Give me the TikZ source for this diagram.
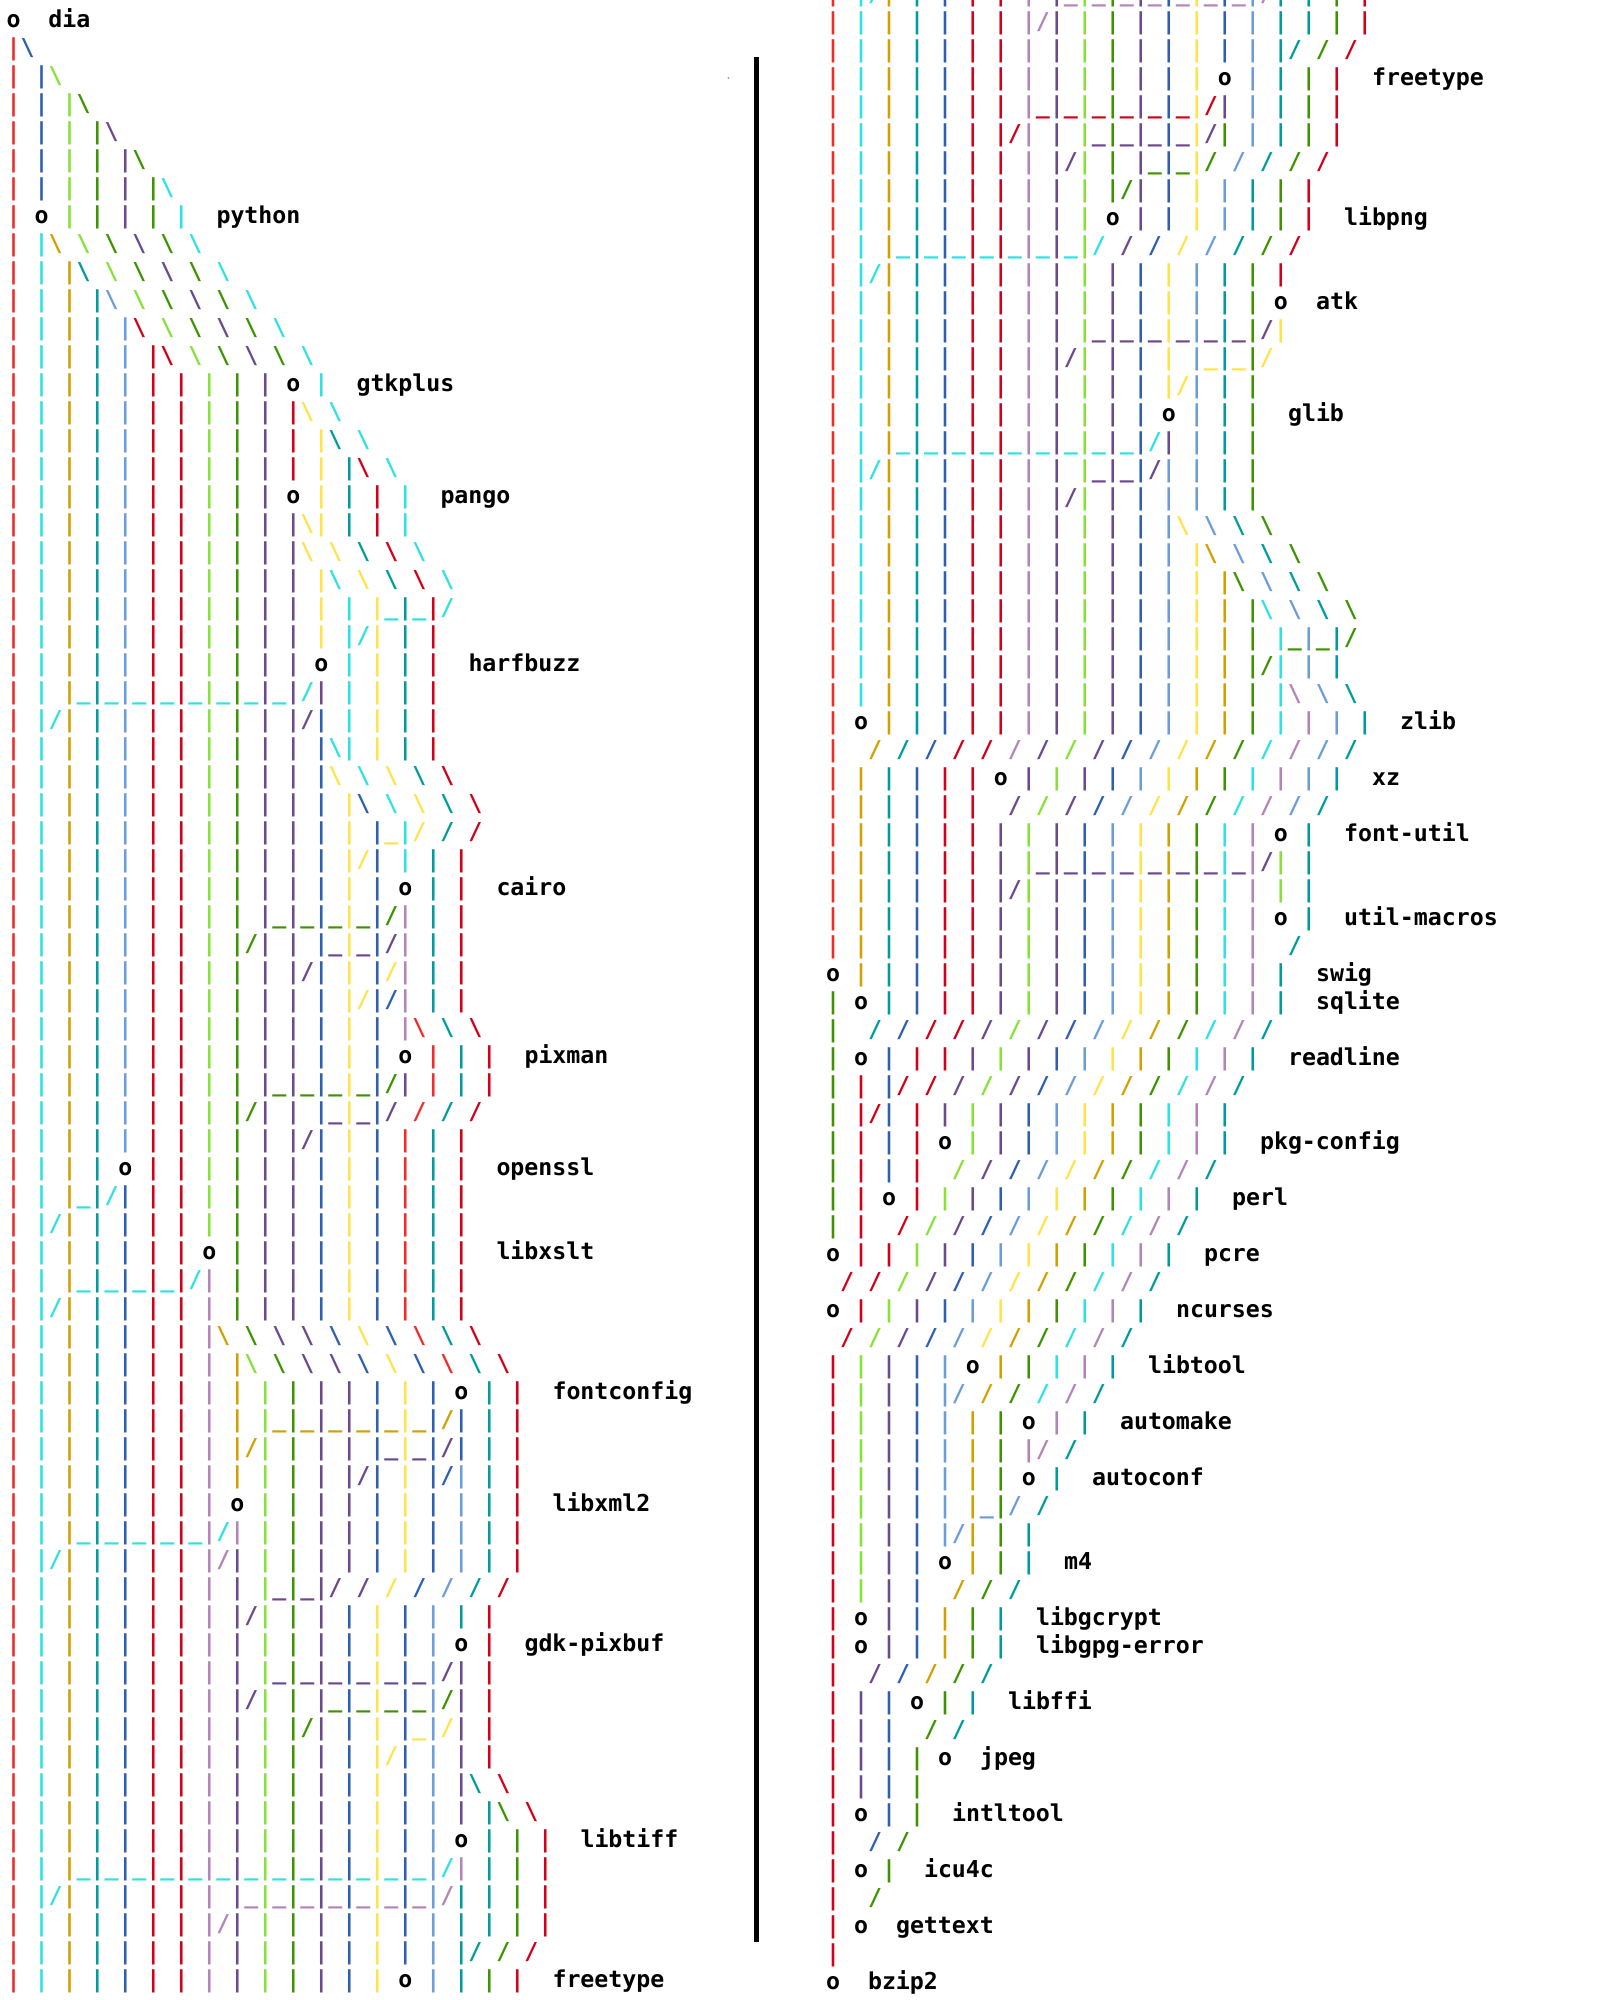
\documentclass[tikz,border=0pt]{standalone}
\usepackage{fontspec}
\newfontfamily\gmono{DejaVu Sans Mono}
\usepackage{xcolor}
\definecolor{cR}{HTML}{F22A2A}
\definecolor{cr}{HTML}{D20018}
\definecolor{cC}{HTML}{2EE2E2}
\definecolor{cT}{HTML}{009C9C}
\definecolor{cG}{HTML}{D2A000}
\definecolor{cY}{HTML}{FFE34A}
\definecolor{cL}{HTML}{86E236}
\definecolor{cg}{HTML}{3E9400}
\definecolor{cP}{HTML}{6B4A8C}
\definecolor{cp}{HTML}{B384B8}
\definecolor{cB}{HTML}{2E5FB2}
\definecolor{cb}{HTML}{6A9DDA}
\definecolor{ck}{HTML}{000000}
\newlength\cw \setlength\cw{1.4mm}
\def\glI{|}\def\glS{/}\def\glK{\textbackslash}\def\glU{\textunderscore}\def\glO{o}
\def\rpend{RPEND}
\def\rowp#1#2{\ifx#1\rpend\else\rpcell#1#2\expandafter\rowp\fi}
\def\rpcell#1#2{\makebox[\cw][c]{\if#1.\else\textcolor{c#1}{\csname gl#2\endcsname}\fi}}
\newcommand\Lrow[2]{\edef\tmprow{#2}\node[rowtxt] (L#1) at (6.5,{27+28*#1}) {\expandafter\rowp\tmprow\rpend\rpend};}
\newcommand\Rrow[2]{\edef\tmprow{#2}\node[rowtxt] (R#1) at (826,{29+28*#1}) {\expandafter\rowp\tmprow\rpend\rpend};}
\newcommand\Llab[4]{\node[labtxt] (#1) at ({6.5+14*#3},{27+28*#2}) {#4};}
\newcommand\Rlab[4]{\node[labtxt] (#1) at ({826+14*#3},{29+28*#2}) {#4};}
% lane prefixes
\def\PA{RI .. CI .. GI .. TI .. bI .. rI .. rI .. LI .. gI .. PI}
\def\PB{\PA .. PI .. BI}
\def\PC{RI .. CI .. GI .. TI .. bI .. rI .. rI .. LI .. gI}
\def\QA{RI .. CI .. GI .. TI .. BI .. rI .. rI .. pI}
\def\QB{\QA .. PI}
\def\QC{\QB .. LI .. gI .. PI .. BI}
\def\QD{\QC .. YI .. BI .. bI}
\def\XA{RI .. CI .. GI .. TI .. BI .. rI .. rI .. pI .. PI .. LI}
\def\XB{\XA .. PI .. BI}
\def\YA{RI .. GI .. TI .. BI .. rI .. rI .. PI .. LI .. PI .. BI .. bI .. YI .. GI .. gI .. CI .. pI}
\def\RowA{RI .. CI CS GI .. TI .. BI .. rI .. rI .. pI .. PI pU LI pU gI pU PI pU BI pU YI pU BI pU bI pS TI .. TI .. gI .. rI}
\def\RowB{RI .. CI .. GI .. TI .. BI .. rI .. rI .. pI pS PI .. LI .. gI .. PI .. BI .. YI .. BI .. bI .. TI .. TI .. gI .. rI}
\def\RowC{\QD .. TI TS .. gS .. rS}
\def\RowD{\QC .. YI .. kO .. bI .. TI .. gI .. rI}
\tikzset{
  rowtxt/.style={anchor=base west, inner sep=0pt, outer sep=0pt,
    font=\gmono\bfseries\fontsize{6.616pt}{8pt}\selectfont},
  labtxt/.style={rowtxt, text=black},
  divider/.style={line width=0.55mm, black}
}
\begin{document}
\begin{tikzpicture}[x=0.1mm,y=-0.1mm]
\fill[white] (0,0) rectangle (1600,2000);
\useasboundingbox (0,0) rectangle (1600,2000);
% ---------------- left panel ----------------
\Lrow{0}{kO}
\Lrow{1}{RI BK}
\Lrow{2}{RI .. BI LK}
\Lrow{3}{RI .. BI .. LI gK}
\Lrow{4}{RI .. BI .. LI .. gI PK}
\Lrow{5}{RI .. BI .. LI .. gI .. PI gK}
\Lrow{6}{RI .. BI .. LI .. gI .. PI .. gI CK}
\Lrow{7}{RI .. kO .. LI .. gI .. PI .. gI .. CI}
\Lrow{8}{RI .. CI GK .. LK .. gK .. PK .. gK .. CK}
\Lrow{9}{RI .. CI .. GI TK .. LK .. gK .. PK .. gK .. CK}
\Lrow{10}{RI .. CI .. GI .. TI bK .. LK .. gK .. PK .. gK .. CK}
\Lrow{11}{RI .. CI .. GI .. TI .. bI rK .. LK .. gK .. PK .. gK .. CK}
\Lrow{12}{RI .. CI .. GI .. TI .. bI .. rI rK .. LK .. gK .. PK .. gK .. CK}
\Lrow{13}{\PA .. kO .. CI}
\Lrow{14}{\PA .. rI YK .. CK}
\Lrow{15}{\PA .. rI .. YI TK .. CK}
\Lrow{16}{\PA .. rI .. YI .. TI rK .. CK}
\Lrow{17}{\PA .. kO .. YI .. TI .. rI .. CI}
\Lrow{18}{\PA .. PI YK YI .. TI .. rI .. CI}
\Lrow{19}{\PA .. PI YK .. YK .. TK .. rK .. CK}
\Lrow{20}{\PA .. PI .. YI CK .. YK .. TK .. rK .. CK}
\Lrow{21}{\PA .. PI .. YI .. CI .. YI CU TI CU rI CS}
\Lrow{22}{\PA .. PI .. YI .. CI CS YI .. TI .. rI}
\Lrow{23}{\PA .. PI .. kO .. CI .. YI .. TI .. rI}
\Lrow{24}{RI .. CI .. GI CU TI CU bI CU rI CU rI CU LI CU gI CU PI CU PI CS PI .. CI .. YI .. TI .. rI}
\Lrow{25}{RI .. CI CS GI .. TI .. bI .. rI .. rI .. LI .. gI .. PI .. PI PS BI .. CI .. YI .. TI .. rI}
\Lrow{26}{\PB CK CI .. YI .. TI .. rI}
\Lrow{27}{\PB YK .. CK .. YK .. TK .. rK}
\Lrow{28}{\PB .. YI BK .. CK .. YK .. TK .. rK}
\Lrow{29}{\PB .. YI .. BI YU CI YS .. TS .. rS}
\Lrow{30}{\PB .. YI YS BI .. CI .. TI .. rI}
\Lrow{31}{\PB .. YI .. BI .. kO .. TI .. rI}
\Lrow{32}{\PC .. PI gU PI gU BI gU YI gU BI gS pI .. TI .. rI}
\Lrow{33}{\PC gS PI .. PI .. BI PU YI PU BI PS pI .. TI .. rI}
\Lrow{34}{\PA .. PI PS BI .. YI .. BI YS pI .. TI .. rI}
\Lrow{35}{\PB .. YI YS BI BS pI .. TI .. rI}
\Lrow{36}{\PB .. YI .. BI .. pI RK .. TK .. rK}
\Lrow{37}{\PB .. YI .. BI .. kO .. RI .. TI .. rI}
\Lrow{38}{\PC .. PI gU PI gU BI gU YI gU BI gS PI .. RI .. TI .. rI}
\Lrow{39}{\PC gS PI .. PI .. BI PU YI PU BI PS .. RS .. TS .. rS}
\Lrow{40}{\PA .. PI PS BI .. YI .. BI .. RI .. TI .. rI}
\Lrow{41}{RI .. CI .. GI .. TI .. kO .. rI .. rI .. LI .. gI .. PI .. PI .. BI .. YI .. BI .. RI .. TI .. rI}
\Lrow{42}{RI .. CI .. GI CU TI CS BI .. rI .. rI .. LI .. gI .. PI .. PI .. BI .. YI .. BI .. RI .. TI .. rI}
\Lrow{43}{RI .. CI CS GI .. TI .. BI .. rI .. rI .. LI .. gI .. PI .. PI .. BI .. YI .. BI .. RI .. TI .. rI}
\Lrow{44}{RI .. CI .. GI .. TI .. BI .. rI .. rI .. kO .. gI .. PI .. PI .. BI .. YI .. BI .. RI .. TI .. rI}
\Lrow{45}{RI .. CI .. GI CU TI CU BI CU rI CU rI CS pI .. gI .. PI .. PI .. BI .. YI .. BI .. RI .. TI .. rI}
\Lrow{46}{RI .. CI CS GI .. TI .. BI .. rI .. rI .. pI .. gI .. PI .. PI .. BI .. YI .. BI .. RI .. TI .. rI}
\Lrow{47}{\QA GK .. gK .. PK .. PK .. BK .. YK .. BK .. RK .. TK .. rK}
\Lrow{48}{\QA .. GI LK .. gK .. PK .. PK .. BK .. YK .. BK .. RK .. TK .. rK}
\Lrow{49}{\QA .. GI .. LI .. gI .. PI .. PI .. BI .. YI .. BI .. kO .. TI .. rI}
\Lrow{50}{\QA .. GI .. LI GU gI GU PI GU PI GU BI GU YI GU BI GS BI .. TI .. rI}
\Lrow{51}{\QA .. GI GS LI .. gI .. PI .. PI .. BI PU YI PU BI PS BI .. TI .. rI}
\Lrow{52}{\QA .. GI .. LI .. gI .. PI .. PI PS BI .. YI .. BI BS bI .. TI .. rI}
\Lrow{53}{\QA .. kO .. LI .. gI .. PI .. PI .. BI .. YI .. BI .. bI .. TI .. rI}
\Lrow{54}{RI .. CI .. GI CU TI CU BI CU rI CU rI CU pI CS pI .. LI .. gI .. PI .. PI .. BI .. YI .. BI .. bI .. TI .. rI}
\Lrow{55}{RI .. CI CS GI .. TI .. BI .. rI .. rI .. pI pS PI .. LI .. gI .. PI .. PI .. BI .. YI .. BI .. bI .. TI .. rI}
\Lrow{56}{\QB .. LI PU gI PU PI PS .. PS .. YS .. BS .. bS .. TS .. rS}
\Lrow{57}{\QA .. PI PS LI .. gI .. PI .. BI .. YI .. BI .. bI .. TI .. rI}
\Lrow{58}{\QB .. LI .. gI .. PI .. BI .. YI .. BI .. bI .. kO .. rI}
\Lrow{59}{\QB .. LI PU gI PU PI PU BI PU YI PU BI PU bI PS PI .. rI}
\Lrow{60}{\QB PS LI .. gI .. PI gU BI gU YI gU BI gU bI gS PI .. rI}
\Lrow{61}{\QB .. LI .. gI gS PI .. BI .. YI .. BI YU bI YS PI .. rI}
\Lrow{62}{\QC .. YI YS BI .. bI .. PI .. rI}
\Lrow{63}{\QD .. PI TK .. rK}
\Lrow{64}{\QD .. PI .. TI gK .. rK}
\Lrow{65}{\QD .. kO .. TI .. gI .. rI}
\Lrow{66}{RI .. CI .. GI CU TI CU BI CU rI CU rI CU pI CU PI CU LI CU gI CU PI CU BI CU YI CU BI CU bI CS pI .. TI .. gI .. rI}
\Lrow{67}{\RowA}
\Lrow{68}{\RowB}
\Lrow{69}{\RowC}
\Lrow{70}{\RowD}
\Llab{dia}{0}{3}{dia}
\Llab{python}{7}{15}{python}
\Llab{gtkplus}{13}{25}{gtkplus}
\Llab{pango}{17}{31}{pango}
\Llab{harfbuzz}{23}{33}{harfbuzz}
\Llab{cairo}{31}{35}{cairo}
\Llab{pixman}{37}{37}{pixman}
\Llab{openssl}{41}{35}{openssl}
\Llab{libxslt}{44}{35}{libxslt}
\Llab{fontconfig}{49}{39}{fontconfig}
\Llab{libxml2}{53}{39}{libxml2}
\Llab{gdkpixbuf}{58}{37}{gdk-pixbuf}
\Llab{libtiff}{65}{41}{libtiff}
\Llab{freetypeL}{70}{39}{freetype}
% ---------------- divider ----------------
\coordinate (divtop) at (756.6,57);
\coordinate (divbot) at (756.6,1942);
\draw[divider] (divtop) -- (divbot);
\coordinate (speck) at (728.5,78);
\fill[gray!70] (speck) circle[radius=0.12mm];
% ---------------- right panel ----------------
\edef\tmprow{\RowA}\node[rowtxt] (Rtop) at (826,1) {\expandafter\rowp\tmprow\rpend\rpend};
\Rrow{0}{\RowB}
\Rrow{1}{\RowC}
\Rrow{2}{\RowD}
\Rrow{3}{RI .. CI .. GI .. TI .. BI .. rI .. rI .. pI rU PI rU LI rU gI rU PI rU BI rU YI rS PI .. bI .. TI .. gI .. rI}
\Rrow{4}{RI .. CI .. GI .. TI .. BI .. rI .. rI rS pI .. PI .. LI PU gI PU PI PU BI PU YI PS gI .. bI .. TI .. gI .. rI}
\Rrow{5}{RI .. CI .. GI .. TI .. BI .. rI .. rI .. pI .. PI PS LI .. gI .. PI gU BI gU YI gS .. bS .. TS .. gS .. rS}
\Rrow{6}{\XA .. gI gS PI .. BI .. YI .. bI .. TI .. gI .. rI}
\Rrow{7}{\XA .. kO .. PI .. BI .. YI .. bI .. TI .. gI .. rI}
\Rrow{8}{RI .. CI .. GI CU TI CU BI CU rI CU rI CU pI CU PI CU LI CS .. PS .. BS .. YS .. bS .. TS .. gS .. rS}
\Rrow{9}{RI .. CI CS GI .. TI .. BI .. rI .. rI .. pI .. PI .. LI .. PI .. BI .. YI .. bI .. TI .. gI .. rI}
\Rrow{10}{\XA .. PI .. BI .. YI .. bI .. TI .. gI .. kO}
\Rrow{11}{\XA PU PI PU BI PU YI PU bI PU TI PU gI PS YI}
\Rrow{12}{RI .. CI .. GI .. TI .. BI .. rI .. rI .. pI .. PI PS LI .. PI .. BI .. YI .. bI YU TI YU gI YS}
\Rrow{13}{\XA .. PI .. BI .. YI YS bI .. TI .. gI}
\Rrow{14}{\XA .. PI .. BI .. kO .. bI .. TI .. gI}
\Rrow{15}{RI .. CI .. GI CU TI CU BI CU rI CU rI CU pI CU PI CU LI CU PI CU BI CS PI .. bI .. TI .. gI}
\Rrow{16}{RI .. CI CS GI .. TI .. BI .. rI .. rI .. pI .. PI .. LI PU PI PU BI PS bI .. bI .. TI .. gI}
\Rrow{17}{RI .. CI .. GI .. TI .. BI .. rI .. rI .. pI .. PI PS LI .. PI .. BI .. bI .. bI .. TI .. gI}
\Rrow{18}{\XB .. bI YK .. bK .. TK .. gK}
\Rrow{19}{\XB .. bI .. YI GK .. bK .. TK .. gK}
\Rrow{20}{\XB .. bI .. YI .. GI gK .. bK .. TK .. gK}
\Rrow{21}{\XB .. bI .. YI .. GI .. gI CK .. bK .. TK .. gK}
\Rrow{22}{\XB .. bI .. YI .. GI .. gI .. CI gU bI gU TI gS}
\Rrow{23}{\XB .. bI .. YI .. GI .. gI gS CI .. bI .. TI}
\Rrow{24}{\XB .. bI .. YI .. GI .. gI .. CI pK .. bK .. TK}
\Rrow{25}{RI .. kO .. GI .. TI .. BI .. rI .. rI .. pI .. PI .. LI .. PI .. BI .. bI .. YI .. GI .. gI .. CI .. pI .. bI .. TI}
\Rrow{26}{RI .. .. GS .. TS .. BS .. rS .. rS .. pS .. PS .. LS .. PS .. BS .. bS .. YS .. GS .. gS .. CS .. pS .. bS .. TS}
\Rrow{27}{RI .. GI .. TI .. BI .. rI .. rI .. kO .. PI .. LI .. PI .. BI .. bI .. YI .. GI .. gI .. CI .. pI .. bI .. TI}
\Rrow{28}{RI .. GI .. TI .. BI .. rI .. rI .. .. PS .. LS .. PS .. BS .. bS .. YS .. GS .. gS .. CS .. pS .. bS .. TS}
\Rrow{29}{\YA .. kO .. TI}
\Rrow{30}{RI .. GI .. TI .. BI .. rI .. rI .. PI .. LI PU PI PU BI PU bI PU YI PU GI PU gI PU CI PU pI PS LI .. TI}
\Rrow{31}{RI .. GI .. TI .. BI .. rI .. rI .. PI PS LI .. PI .. BI .. bI .. YI .. GI .. gI .. CI .. pI .. LI .. TI}
\Rrow{32}{\YA .. kO .. TI}
\Rrow{33}{\YA .. .. TS}
\Rrow{34}{kO .. GI .. TI .. BI .. rI .. rI .. PI .. LI .. PI .. BI .. bI .. YI .. GI .. gI .. CI .. pI .. TI}
\Rrow{35}{gI .. kO .. TI .. BI .. rI .. rI .. PI .. LI .. PI .. BI .. bI .. YI .. GI .. gI .. CI .. pI .. TI}
\Rrow{36}{gI .. .. TS .. BS .. rS .. rS .. PS .. LS .. PS .. BS .. bS .. YS .. GS .. gS .. CS .. pS .. TS}
\Rrow{37}{gI .. kO .. BI .. rI .. rI .. PI .. LI .. PI .. BI .. bI .. YI .. GI .. gI .. CI .. pI .. TI}
\Rrow{38}{gI .. rI .. BI rS .. rS .. PS .. LS .. PS .. BS .. bS .. YS .. GS .. gS .. CS .. pS .. TS}
\Rrow{39}{gI .. rI rS BI .. rI .. PI .. LI .. PI .. BI .. bI .. YI .. GI .. gI .. CI .. pI .. TI}
\Rrow{40}{gI .. rI .. BI .. rI .. kO .. LI .. PI .. BI .. bI .. YI .. GI .. gI .. CI .. pI .. TI}
\Rrow{41}{gI .. rI .. BI .. rI .. .. LS .. PS .. BS .. bS .. YS .. GS .. gS .. CS .. pS .. TS}
\Rrow{42}{gI .. rI .. kO .. rI .. LI .. PI .. BI .. bI .. YI .. GI .. gI .. CI .. pI .. TI}
\Rrow{43}{gI .. rI .. .. rS .. LS .. PS .. BS .. bS .. YS .. GS .. gS .. CS .. pS .. TS}
\Rrow{44}{kO .. rI .. rI .. LI .. PI .. BI .. bI .. YI .. GI .. gI .. CI .. pI .. TI}
\Rrow{45}{.. rS .. rS .. LS .. PS .. BS .. bS .. YS .. GS .. gS .. CS .. pS .. TS}
\Rrow{46}{kO .. rI .. LI .. PI .. BI .. bI .. YI .. GI .. gI .. CI .. pI .. TI}
\Rrow{47}{.. rS .. LS .. PS .. BS .. bS .. YS .. GS .. gS .. CS .. pS .. TS}
\Rrow{48}{rI .. LI .. PI .. BI .. bI .. kO .. GI .. gI .. CI .. pI .. TI}
\Rrow{49}{rI .. LI .. PI .. BI .. bI bS .. GS .. gS .. CS .. pS .. TS}
\Rrow{50}{rI .. LI .. PI .. BI .. bI .. GI .. gI .. kO .. pI .. TI}
\Rrow{51}{rI .. LI .. PI .. BI .. bI .. GI .. gI .. pI pS .. TS}
\Rrow{52}{rI .. LI .. PI .. BI .. bI .. GI .. gI .. kO .. TI}
\Rrow{53}{rI .. LI .. PI .. BI .. bI .. GI bU gI bS .. TS}
\Rrow{54}{rI .. LI .. PI .. BI .. bI bS GI .. gI .. TI}
\Rrow{55}{rI .. LI .. PI .. BI .. kO .. GI .. gI .. TI}
\Rrow{56}{rI .. LI .. PI .. BI .. .. GS .. gS .. TS}
\Rrow{57}{rI .. kO .. PI .. BI .. GI .. gI .. TI}
\Rrow{58}{rI .. kO .. PI .. BI .. GI .. gI .. TI}
\Rrow{59}{rI .. .. PS .. BS .. GS .. gS .. TS}
\Rrow{60}{rI .. PI .. BI .. kO .. gI .. TI}
\Rrow{61}{rI .. PI .. BI .. .. gS .. TS}
\Rrow{62}{rI .. PI .. BI .. gI .. kO}
\Rrow{63}{rI .. PI .. BI .. gI}
\Rrow{64}{rI .. kO .. BI .. gI}
\Rrow{65}{rI .. .. BS .. gS}
\Rrow{66}{rI .. kO .. gI}
\Rrow{67}{rI .. .. gS}
\Rrow{68}{rI .. kO}
\Rrow{69}{rI}
\Rrow{70}{kO}
\Rlab{freetypeR}{2}{39}{freetype}
\Rlab{libpng}{7}{37}{libpng}
\Rlab{atk}{10}{35}{atk}
\Rlab{glib}{14}{33}{glib}
\Rlab{zlib}{25}{41}{zlib}
\Rlab{xz}{27}{39}{xz}
\Rlab{fontutil}{29}{37}{font-util}
\Rlab{utilmacros}{32}{37}{util-macros}
\Rlab{swig}{34}{35}{swig}
\Rlab{sqlite}{35}{35}{sqlite}
\Rlab{readline}{37}{33}{readline}
\Rlab{pkgconfig}{40}{31}{pkg-config}
\Rlab{perl}{42}{29}{perl}
\Rlab{pcre}{44}{27}{pcre}
\Rlab{ncurses}{46}{25}{ncurses}
\Rlab{libtool}{48}{23}{libtool}
\Rlab{automake}{50}{21}{automake}
\Rlab{autoconf}{52}{19}{autoconf}
\Rlab{mfour}{55}{17}{m4}
\Rlab{libgcrypt}{57}{15}{libgcrypt}
\Rlab{libgpgerror}{58}{15}{libgpg-error}
\Rlab{libffi}{60}{13}{libffi}
\Rlab{jpeg}{62}{11}{jpeg}
\Rlab{intltool}{64}{9}{intltool}
\Rlab{icufourc}{66}{7}{icu4c}
\Rlab{gettext}{68}{5}{gettext}
\Rlab{bziptwo}{70}{3}{bzip2}
\end{tikzpicture}
\end{document}
